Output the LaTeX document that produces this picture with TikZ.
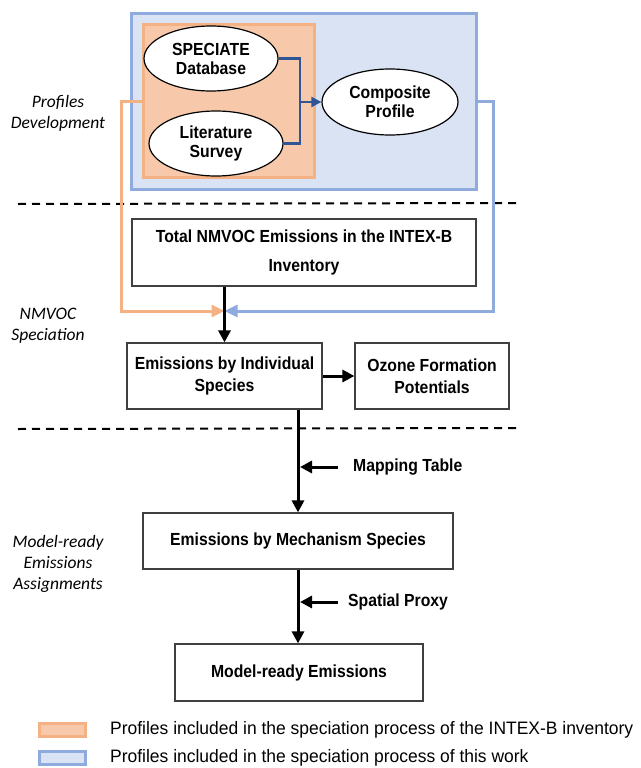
\documentclass[tikz,border=0pt]{standalone}
\usepackage{fontspec}
\setmainfont{Liberation Sans}
\newfontfamily\boxfont[FakeStretch=0.9]{Liberation Sans}
\newfontfamily\legendfont[FakeStretch=0.97]{Liberation Sans}
\newfontfamily\sidefont{Carlito}
\usepackage{xcolor}
\usepackage{tikz}
\usetikzlibrary{shapes, arrows.meta}

\definecolor{workfill}{HTML}{DAE3F3}
\definecolor{workline}{HTML}{8FAADC}
\definecolor{intexfill}{HTML}{F7C9AA}
\definecolor{intexline}{HTML}{F4B183}
\definecolor{joinblue}{HTML}{2F5597}
\definecolor{boxline}{HTML}{404040}

\tikzset{
  block/.style={rectangle, draw=boxline, line width=1.2pt, fill=white, inner sep=0pt, align=center,
    font=\boxfont\bfseries\fontsize{17.5}{22}\selectfont},
  source/.style={ellipse, draw=black, line width=1.2pt, fill=white, inner sep=0pt, align=center,
    minimum width=134pt, minimum height=65pt, font=\boxfont\bfseries\fontsize{17.5}{19}\selectfont},
  group/.style={rectangle, line width=3pt, inner sep=0pt},
  flow/.style={draw, line width=3pt, -{Triangle[length=12pt, width=12pt]}},
  feed/.style={draw, line width=3pt, -{Triangle[length=13pt, width=12pt]}},
  joinline/.style={draw, joinblue, line width=2.2pt},
  sidelabel/.style={inner sep=0pt, align=center, font=\sidefont\itshape\fontsize{17.5}{21}\selectfont},
  steplabel/.style={inner sep=0pt, anchor=west, font=\boxfont\bfseries\fontsize{17.5}{22}\selectfont},
  legendbox/.style={rectangle, line width=3pt, minimum width=46pt, minimum height=13pt, inner sep=0pt},
  legendtext/.style={inner sep=0pt, anchor=west, font=\legendfont\fontsize{18}{22}\selectfont},
  phaseline/.style={draw, dashed, dash pattern=on 8pt off 6pt, line width=2pt}
}

\begin{document}
\begin{tikzpicture}[x=1pt, y=-1pt]
        \useasboundingbox (0,0) rectangle (640,768);

        % Profile groups
        \node [group, draw=workline, fill=workfill, minimum width=345pt, minimum height=175pt] (workbox) at (303.5,101.5) {};
        \node [group, draw=intexline, fill=intexfill, minimum width=171pt, minimum height=152pt] (intexbox) at (228.5,101) {};

        % Nodes
        \node [source] (speciate) at (211,58.5) {SPECIATE\\Database};
        \node [source] (literature) at (216,143.5) {Literature\\Survey};
        \node [source, minimum width=136pt, minimum height=66pt] (composite) at (390,102) {Composite\\Profile};
        \node [block, minimum width=344pt, minimum height=67pt, font=\boxfont\bfseries\fontsize{17.5}{29}\selectfont] (total) at (304,252.5) {Total NMVOC Emissions in the INTEX-B\\Inventory};
        \node [block, minimum width=195pt, minimum height=66pt] (individual) at (224.5,376) {Emissions by Individual\\Species};
        \node [block, minimum width=154pt, minimum height=66pt] (ozone) at (432,376) {Ozone Formation\\Potentials};
        \node [block, minimum width=310pt, minimum height=56pt] (mechanism) at (298,541) {Emissions by Mechanism Species};
        \node [block, minimum width=248pt, minimum height=57pt] (model) at (299,672.5) {Model-ready Emissions};
        \node [steplabel] (maptable) at (353,467) {Mapping Table};
        \node [steplabel] (spatial) at (348,602) {Spatial Proxy};

        % Phase labels
        \node [sidelabel] (profdev) at (58,113) {Profiles\\Development};
        \node [sidelabel] (speciation) at (48,325.5) {NMVOC\\Speciation};
        \node [sidelabel] (assign) at (58,564) {Model-ready\\Emissions\\Assignments};
        \path [phaseline] (18,204) -- (516,203);
        \path [phaseline] (18,429) -- (516,428);

        % Arrows
        \coordinate (join) at (300,102);
        \coordinate (merge) at (224.5,311);
        \path [joinline] (speciate.east) -| (join);
        \path [joinline] (literature.east) -| (join);
        \path [joinline, -{Triangle[length=10pt, width=10pt]}] (join) -- (composite.west);
        \path [feed, intexline] (intexbox.west) -| (121,311) -- (merge);
        \path [feed, workline] (workbox.east) -| (493,311) -- (merge);
        \path [flow] (total.south -| individual.north) -- (individual.north);
        \path [flow] (individual.east) -- (ozone.west);
        \path [flow] (individual.south -| mechanism.north) -- (mechanism.north);
        \path [flow] (mechanism.south) -- (mechanism.south |- model.north);
        \path [flow] ([xshift=-15pt]maptable.west) -- ([xshift=2pt]maptable.west -| mechanism.north);
        \path [flow] ([xshift=-10pt]spatial.west) -- ([xshift=2pt]spatial.west -| mechanism.north);

        % Legend
        \node [legendbox, draw=intexline, fill=intexfill] (legintex) at (62.5,729.5) {};
        \node [legendbox, draw=workline, fill=workfill] (legwork) at (62.5,757.5) {};
        \node [legendtext] (legintextext) at (110,730) {Profiles included in the speciation process of the INTEX-B inventory};
        \node [legendtext] (legworktext) at (110,758) {Profiles included in the speciation process of this work};
    \end{tikzpicture}
\end{document}
